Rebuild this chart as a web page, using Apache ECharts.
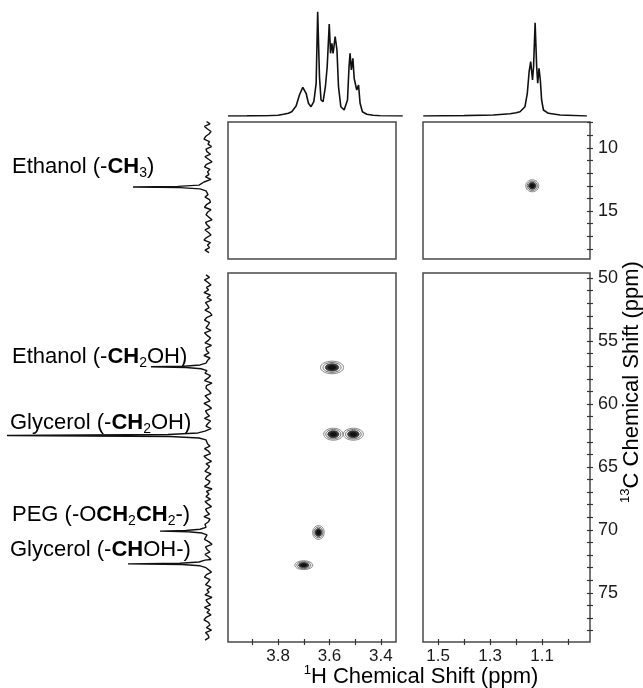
<!DOCTYPE html>
<html>
<head>
<meta charset="utf-8">
<script src="https://cdn.jsdelivr.net/npm/echarts@6/dist/echarts.min.js"></script>
<style>html,body{margin:0;padding:0;background:#fff}#c{width:643px;height:688px}</style>
</head>
<body>
<div id="c"></div>
<script>
// ---------- DATA ----------
// 1H projection, 3.3-4.0 ppm region: [ppm, intensity]
const hLeft = [[3.995,0],[3.92,0.1],[3.844,0.3],[3.80,0.8],[3.779,1.7],[3.76,2.8],[3.747,4.3],[3.730,10],[3.717,21],[3.704,28.7],[3.698,26.7],[3.691,22.7],[3.682,12.7],[3.672,9.3],[3.661,14.3],[3.652,32.7],[3.646,104.3],[3.639,39.3],[3.633,16],[3.625,14.3],[3.616,29.3],[3.609,49.3],[3.601,92],[3.596,62.7],[3.591,72.7],[3.586,62.7],[3.578,79.3],[3.571,66],[3.565,29.3],[3.556,9.3],[3.543,6],[3.530,16],[3.524,49.3],[3.520,62.7],[3.515,46],[3.509,57.7],[3.504,37.7],[3.499,39.3],[3.494,26],[3.487,31],[3.481,12.7],[3.472,4.3],[3.455,1.7],[3.43,0.8],[3.403,0.3],[3.315,0]];
// 1H projection, 0.9-1.55 ppm region
const hRight = [[1.557,0],[1.40,0.4],[1.288,1],[1.223,2.3],[1.20,3.2],[1.185,4.3],[1.166,9.3],[1.157,22.7],[1.150,44.3],[1.144,54.3],[1.137,36],[1.133,49.3],[1.127,93.3],[1.121,49.3],[1.117,32.7],[1.112,47.7],[1.107,36],[1.102,16],[1.095,6],[1.076,2.7],[1.031,1],[0.928,0]];

// 13C projection: sampled baseline noise (start ppm, step ppm, values)
const cUpperStart = 7.9, cUpperStep = 0.2;
const cUpperNoise = [1.5,-2,3.5,0.5,-3,-1,2.5,4,-1.5,0,
 -3.5,2,1,-2.5,3,-0.5,-4,1.5,3.5,-2,
 0.5,-1,2.5,-3,4,1,-2,-3.5,2,0,
 3,-1.5,-2.5,1.5,3.5,-3,0.5,2,-1,-4,
 2.5,1,-2,3,-0.5,-3,1.5,4,-2.5,0.5,
 -1.5,3,-1];
const cLowerStart = 49.75, cLowerStep = 0.2;
const cLowerNoise = [2,-1.5,3.5,0,-3,1.5,-0.5,4,-2.5,1,
 -3.5,2.5,0.5,-1,3,-2,-4,1.5,3.5,-1.5,
 0,2,-3,3.5,1,-2.5,-0.5,3,-3.5,2,
 1.5,-1,4,-2,0.5,-3.5,2.5,1,-1.5,3,
 -2.5,0,3.5,-4,1.5,2,-1,-3,3,0.5,
 -2,4,-0.5,-3.5,2.5,1,-1.5,3.5,-2.5,0,
 2,-3,1.5,3,-1,-4,2.5,0.5,-2,3.5,
 -0.5,-2.5,4,1,-3.5,2,-1.5,0.5,3,-3,
 1,2.5,-2,-0.5,3.5,-4,1.5,-1,2,-2.5,
 3,0,-3.5,2.5,1,-1.5,4,-2,-0.5,3,
 -3,1.5,2,-2.5,0.5,3.5,-1,-4,2.5,1,
 -2,3,-0.5,-3,4,0.5,-1.5,2,-3.5,1.5,
 3.5,-2,0,2.5,-3,1,-1,3,-4,2,
 0.5,-2.5,3.5,-1.5,1,-3,2,4,-0.5,-2,
 1.5,-3.5,2.5,0,-1,3];
// 13C peaks: [ppm, intensity]
const cPeakCH3 = [[12.8,3],[12.95,9],[13.05,30],[13.1,75],[13.15,28],[13.25,8],[13.4,2]];
const cPeakEtCH2 = [[56.75,2],[56.9,8],[57.0,24],[57.05,57],[57.1,22],[57.2,7],[57.35,1]];
const cPeakGlyCH2 = [[62.15,3],[62.3,10],[62.42,40],[62.5,201],[62.58,38],[62.7,9],[62.85,2]];
const cPeakPEG = [[69.8,2],[69.95,8],[70.05,22],[70.1,48],[70.15,20],[70.25,6],[70.4,1]];
const cPeakCHOH = [[72.4,3],[72.55,9],[72.65,28],[72.7,80],[72.75,26],[72.85,8],[73.0,2]];

// 2D cross peaks: 1H ppm, 13C ppm, 1H linewidth (ppm), 13C linewidth (ppm)
const crossH  = [1.138, 3.590, 3.585, 3.507, 3.643, 3.700];
const crossC  = [13.0, 57.1, 62.4, 62.4, 70.2, 72.8];
const crossWH = [0.05, 0.09, 0.075, 0.078, 0.045, 0.07];
const crossWC = [0.95, 1.0, 0.95, 0.95, 1.1, 0.7];

// axis ticks
const xTicksL = [3.9,3.8,3.7,3.6,3.5,3.4], xLabelsL = [3.8,3.6,3.4];
const xTicksR = [1.5,1.4,1.3,1.2,1.1,1.0], xLabelsR = [1.5,1.3,1.1];
const yTicksU = [8,9,10,11,12,13,14,15,16,17,18], yLabelsU = [10,15];
const yTicksL = [50,51,52,53,54,55,56,57,58,59,60,61,62,63,64,65,66,67,68,69,70,71,72,73,74,75,76,77,78];
const yLabelsL = [50,55,60,65,70,75];

// ---------- BUILD ----------
function buildCarbon(start, step, noise, peaks) {
  let pts = noise.map((v, i) => [v, +(start + i * step).toFixed(3)]);
  peaks.forEach(g => {
    const lo = g[0][0], hi = g[g.length - 1][0];
    pts = pts.filter(p => p[1] < lo - 0.05 || p[1] > hi + 0.05);
    g.forEach(q => pts.push([q[1], q[0]]));
  });
  pts.sort((a, b) => a[1] - b[1]);
  return pts;
}
const cUpper = buildCarbon(cUpperStart, cUpperStep, cUpperNoise, [cPeakCH3]);
const cLower = buildCarbon(cLowerStart, cLowerStep, cLowerNoise, [cPeakEtCH2, cPeakGlyCH2, cPeakPEG, cPeakCHOH]);
const cross = crossH.map((h, i) => [h, crossC[i], crossWH[i], crossWC[i]]);
const crossRight = cross.filter(d => d[0] < 2);
const crossLeft = cross.filter(d => d[0] >= 2);

const F = 'Liberation Sans, Arial, Helvetica, sans-serif';
const TXT = '#1a1a1a';
const BORDER = '#4a4a4a';

function hidden(gi, min, max, inverse) {
  return {type: 'value', gridIndex: gi, min, max, inverse: !!inverse, show: false, splitLine: {show: false}};
}
function tickAxis(gi, min, max, ticks, labels, pos, inside, fmt, isY) {
  return {
    type: 'value', gridIndex: gi, min, max, inverse: true, position: pos,
    axisLine: {show: false},
    splitLine: {show: false},
    axisTick: {show: true, inside: inside, length: 3, customValues: ticks, lineStyle: {color: '#333', width: 1.2}},
    axisLabel: inside ? {show: false} : {show: true, customValues: labels, formatter: fmt, fontFamily: F, fontSize: isY ? 18 : 17, color: TXT, margin: isY ? 8 : 6}
  };
}
const fx = v => Number(v).toFixed(1);
const fy = v => String(Math.round(v));

function renderPeak(params, api) {
  const c = api.coord([api.value(0), api.value(1)]);
  const s = api.size([api.value(2), api.value(3)]);
  const rx = Math.abs(s[0]) / 2, ry = Math.abs(s[1]) / 2;
  const lv = [
    {k: 1.0, fill: 'none', stroke: '#777', lw: 0.9},
    {k: 0.78, fill: 'none', stroke: '#555', lw: 0.9},
    {k: 0.58, fill: '#3a3a3a', stroke: '#333', lw: 0.8},
    {k: 0.34, fill: '#111', stroke: '#111', lw: 0.5}
  ];
  return {
    type: 'group',
    children: lv.map(l => ({
      type: 'ellipse',
      shape: {cx: c[0], cy: c[1], rx: rx * l.k, ry: ry * l.k},
      style: {fill: l.fill, stroke: l.stroke, lineWidth: l.lw}
    }))
  };
}

const rich = {
  n: {fontSize: 22, fontFamily: F, color: TXT, lineHeight: 27},
  b: {fontSize: 22, fontFamily: F, color: TXT, fontWeight: 'bold', lineHeight: 27},
  s: {fontSize: 14, fontFamily: F, color: TXT, lineHeight: 14, verticalAlign: 'bottom'},
  u: {fontSize: 13, fontFamily: F, color: TXT, lineHeight: 13, verticalAlign: 'top'}
};
function label(x, y, text, rot) {
  return {type: 'text', x, y, rotation: rot || 0,
    style: {text, rich, align: rot ? 'center' : 'left', verticalAlign: 'middle'}};
}

const option = {
  animation: false,
  backgroundColor: '#fff',
  grid: [
    {left: 228, top: 122, width: 168, height: 137, show: true, borderColor: BORDER, borderWidth: 1.5},
    {left: 423, top: 122, width: 167, height: 137, show: true, borderColor: BORDER, borderWidth: 1.5},
    {left: 228, top: 273, width: 168, height: 369, show: true, borderColor: BORDER, borderWidth: 1.5},
    {left: 423, top: 273, width: 167, height: 369, show: true, borderColor: BORDER, borderWidth: 1.5},
    {left: 228, top: 6, width: 175, height: 110},
    {left: 423, top: 6, width: 167, height: 110},
    {left: 0, top: 122, width: 212, height: 137},
    {left: 0, top: 273, width: 212, height: 369}
  ],
  xAxis: [
    hidden(0, 3.341, 3.995, true),
    hidden(1, 0.916, 1.558, true),
    tickAxis(2, 3.341, 3.995, xTicksL, xLabelsL, 'bottom', false, fx, false),
    tickAxis(3, 0.916, 1.558, xTicksR, xLabelsR, 'bottom', false, fx, false),
    hidden(4, 3.314, 3.995, true),
    hidden(5, 0.916, 1.558, true),
    hidden(6, -4, 208, true),
    hidden(7, -4, 208, true),
    tickAxis(2, 3.341, 3.995, xTicksL, xLabelsL, 'bottom', true, fx, false),
    tickAxis(3, 0.916, 1.558, xTicksR, xLabelsR, 'bottom', true, fx, false)
  ],
  yAxis: [
    hidden(0, 7.95, 18.8, true),
    tickAxis(1, 7.95, 18.8, yTicksU, yLabelsU, 'right', false, fy, true),
    hidden(2, 49.6, 78.9, true),
    tickAxis(3, 49.6, 78.9, yTicksL, yLabelsL, 'right', false, fy, true),
    hidden(4, 0, 110, false),
    hidden(5, 0, 110, false),
    hidden(6, 7.95, 18.8, true),
    hidden(7, 49.6, 78.9, true),
    tickAxis(1, 7.95, 18.8, yTicksU, yLabelsU, 'right', true, fy, true),
    tickAxis(3, 49.6, 78.9, yTicksL, yLabelsL, 'right', true, fy, true)
  ],
  series: [
    {type: 'custom', xAxisIndex: 1, yAxisIndex: 1, data: crossRight, encode: {x: 0, y: 1}, renderItem: renderPeak, clip: true},
    {type: 'custom', xAxisIndex: 2, yAxisIndex: 2, data: crossLeft, encode: {x: 0, y: 1}, renderItem: renderPeak, clip: true},
    {type: 'line', xAxisIndex: 4, yAxisIndex: 4, data: hLeft, showSymbol: false, lineStyle: {color: '#111', width: 1.6}},
    {type: 'line', xAxisIndex: 5, yAxisIndex: 5, data: hRight, showSymbol: false, lineStyle: {color: '#111', width: 1.6}},
    {type: 'line', xAxisIndex: 6, yAxisIndex: 6, data: cUpper, showSymbol: false, lineStyle: {color: '#111', width: 1.4}},
    {type: 'line', xAxisIndex: 7, yAxisIndex: 7, data: cLower, showSymbol: false, lineStyle: {color: '#111', width: 1.4}}
  ],
  graphic: [
    label(12, 167, '{n|Ethanol (-}{b|CH}{s|3}{n|)}'),
    label(12, 357, '{n|Ethanol (-}{b|CH}{s|2}{n|OH)}'),
    label(10, 423, '{n|Glycerol (-}{b|CH}{s|2}{n|OH)}'),
    label(12, 515, '{n|PEG (-O}{b|CH}{s|2}{b|CH}{s|2}{n|-)}'),
    label(10, 550, '{n|Glycerol (-}{b|CH}{n|OH-)}'),
    {type: 'text', x: 421, y: 677, style: {text: '{u|1}{n|H Chemical Shift (ppm)}', rich, align: 'center', verticalAlign: 'middle'}},
    {type: 'text', x: 632, y: 382, rotation: Math.PI / 2, style: {text: '{u|13}{n|C Chemical Shift (ppm)}', rich, align: 'center', verticalAlign: 'middle'}}
  ]
};
const chart = echarts.init(document.getElementById('c'), null, {renderer: 'canvas'});
chart.setOption(option);
</script>
</body>
</html>
